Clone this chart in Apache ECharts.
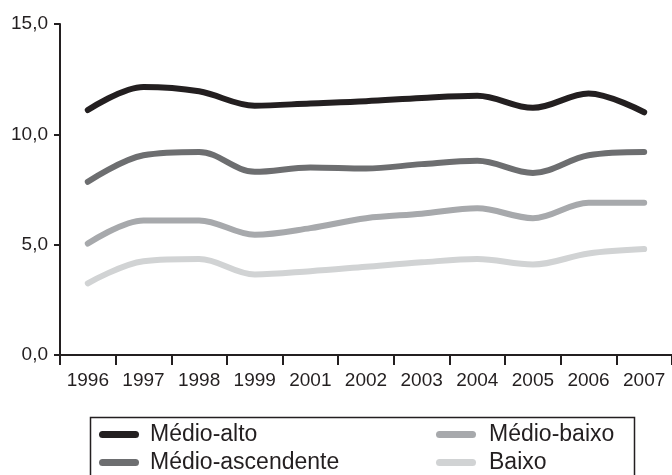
<!DOCTYPE html>
<html>
<head>
<meta charset="utf-8">
<script src="https://cdn.jsdelivr.net/npm/echarts@6/dist/echarts.min.js"></script>
<style>html,body{margin:0;padding:0;background:#fff;}#c{width:672px;height:475px;}</style>
</head>
<body>
<div id="c"></div>
<script>
const years = ['1996','1997','1998','1999','2001','2002','2003','2004','2005','2006','2007'];
const seriesNames = ['Médio-alto','Médio-ascendente','Médio-baixo','Baixo'];
const medioAlto = [11.1, 12.15, 11.95, 11.3, 11.4, 11.5, 11.65, 11.75, 11.2, 11.85, 11.0];
const medioAscendente = [7.85, 9.05, 9.2, 8.3, 8.5, 8.45, 8.65, 8.8, 8.25, 9.05, 9.2];
const medioBaixo = [5.05, 6.1, 6.1, 5.45, 5.75, 6.2, 6.4, 6.65, 6.2, 6.9, 6.9];
const baixo = [3.25, 4.25, 4.35, 3.65, 3.8, 4.0, 4.2, 4.35, 4.1, 4.6, 4.8];
const yTicks = [0, 5, 10, 15];

const colors = ['#231f20', '#6d6e70', '#a7a9ac', '#d1d3d4'];
const values = [medioAlto, medioAscendente, medioBaixo, baixo];
const font = 'Liberation Sans, Arial, sans-serif';
const capsule = 'path://M3.5,0H36.5A3.5,3.5,0,0,1,36.5,7H3.5A3.5,3.5,0,0,1,3.5,0Z';

const legendBase = {
  orient: 'vertical', top: 423, height: 60, padding: 0,
  itemWidth: 40, itemHeight: 7, itemGap: 5, icon: capsule
};

const chart = echarts.init(document.getElementById('c'), null, {renderer: 'canvas'});
chart.setOption({
  animation: false,
  backgroundColor: '#fff',
  grid: {left: 60, top: 24, width: 616, height: 331, containLabel: false},
  xAxis: {
    type: 'category',
    data: years,
    boundaryGap: true,
    axisLine: {lineStyle: {color: '#231f20', width: 2}},
    axisTick: {show: true, length: 10, lineStyle: {color: '#231f20', width: 2}},
    axisLabel: {color: '#231f20', fontSize: 19, fontFamily: font, margin: 16, interval: 0},
    splitLine: {show: false}
  },
  yAxis: {
    type: 'value',
    min: yTicks[0],
    max: yTicks[yTicks.length - 1],
    interval: 5,
    axisLine: {show: true, lineStyle: {color: '#231f20', width: 2}},
    axisTick: {show: true, length: 6, lineStyle: {color: '#231f20', width: 2}},
    axisLabel: {color: '#231f20', fontSize: 19, fontFamily: font, margin: 12,
      formatter: v => v.toFixed(1).replace('.', ',')},
    splitLine: {show: false}
  },
  legend: [
    Object.assign({}, legendBase, {
      data: [seriesNames[0], seriesNames[1]],
      left: 99,
      textStyle: {color: '#231f20', fontSize: 23, fontFamily: font, padding: [0, 0, 0, 6], lineHeight: 23}
    }),
    Object.assign({}, legendBase, {
      data: [seriesNames[2], seriesNames[3]],
      left: 436,
      textStyle: {color: '#231f20', fontSize: 23, fontFamily: font, padding: [0, 0, 0, 8], lineHeight: 23}
    })
  ],
  graphic: [{
    type: 'rect', left: 88, top: 415,
    shape: {width: 544, height: 80},
    style: {fill: 'none', stroke: '#231f20', lineWidth: 1.5},
    silent: true
  }],
  series: seriesNames.map((n, i) => ({
    name: n,
    type: 'line',
    data: values[i],
    smooth: 0.35,
    showSymbol: false,
    symbol: 'none',
    lineStyle: {color: colors[i], width: 6, cap: 'round', join: 'round'},
    itemStyle: {color: colors[i]}
  }))
});
</script>
</body>
</html>
